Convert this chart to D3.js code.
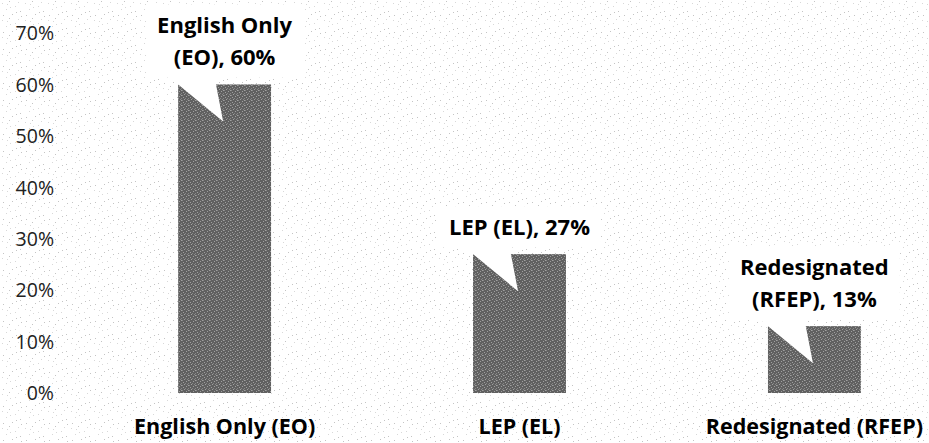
<!DOCTYPE html>
<html>
<head>
<meta charset="utf-8">
<script src="https://cdn.jsdelivr.net/npm/d3@7"></script>
<style>
  html, body { margin: 0; padding: 0; background: #ffffff; }
  svg { display: block; }
</style>
</head>
<body>
<svg id="chart" width="929" height="443"></svg>
<script>
// ---- data ----
const categories = ["English Only (EO)", "LEP (EL)", "Redesignated (RFEP)"];
const values = [60, 27, 13];
const calloutLines = [
  ["English Only", "(EO), 60%"],
  ["LEP (EL), 27%"],
  ["Redesignated", "(RFEP), 13%"]
];
const yTicks = [0, 10, 20, 30, 40, 50, 60, 70];

const W = 929, H = 443;
const svg = d3.select("#chart");
const defs = svg.append("defs");

// background speckle texture
const bgPat = defs.append("pattern").attr("id", "bgdots")
  .attr("width", 23).attr("height", 17).attr("patternUnits", "userSpaceOnUse");
const bgDots = [[2,3],[9,1],[15,6],[20,11],[6,9],[12,14],[18,2],[3,15],[10,7],[21,16],[7,4],[16,12]];
bgPat.selectAll("rect").data(bgDots).join("rect")
  .attr("x", d => d[0]).attr("y", d => d[1]).attr("width", 1).attr("height", 1)
  .attr("fill", (d, i) => i % 2 ? "#c4c4c4" : "#d8d8d8");

// bar speckle texture
const barPat = defs.append("pattern").attr("id", "bartex")
  .attr("width", 7).attr("height", 5).attr("patternUnits", "userSpaceOnUse");
barPat.append("rect").attr("width", 7).attr("height", 5).attr("fill", "#606060");
const barDots = [[0,0],[4,1],[6,3],[2,4],[5,4],[1,2],[3,3],[6,0]];
barPat.selectAll("rect.s").data(barDots).join("rect").attr("class", "s")
  .attr("x", d => d[0]).attr("y", d => d[1]).attr("width", 1).attr("height", 1)
  .attr("fill", (d, i) => i % 2 ? "#a0a0a0" : "#888888");

svg.append("rect").attr("width", W).attr("height", H).attr("fill", "#ffffff");
svg.append("rect").attr("width", W).attr("height", H).attr("fill", "url(#bgdots)");

// ---- scales ----
const x = d3.scaleBand().domain(categories).range([100, 939])
  .paddingInner(0.685).paddingOuter(0.265);
const y = d3.scaleLinear().domain([0, 70]).range([393, 33]);

const font = "'Open Sans', 'DejaVu Sans', sans-serif";

// y axis (labels only)
const yAxis = d3.axisLeft(y).tickValues(yTicks).tickFormat(d => d + "%").tickSize(0).tickPadding(0);
const gy = svg.append("g").attr("transform", "translate(54,0)").call(yAxis);
gy.select(".domain").remove();
gy.selectAll("text").attr("font-family", font).attr("font-size", 19.5)
  .attr("fill", "#222").attr("dy", "0.35em");

// x axis labels
const xAxis = d3.axisBottom(x).tickSize(0).tickPadding(0);
const gx = svg.append("g").attr("transform", "translate(0,434)").call(xAxis);
gx.select(".domain").remove();
gx.selectAll("text").attr("font-family", font).attr("font-size", 21.5)
  .attr("font-weight", "bold").attr("fill", "#000").attr("dy", 0).attr("y", 0);

// bars
const data = categories.map((c, i) => ({ c, v: values[i], lines: calloutLines[i] }));
svg.append("g").selectAll("rect").data(data).join("rect")
  .attr("x", d => x(d.c)).attr("width", x.bandwidth())
  .attr("y", d => y(d.v)).attr("height", d => y(0) - y(d.v))
  .attr("fill", "url(#bartex)");

// callouts
const lineH = 32;
const cg = svg.append("g");
data.forEach(d => {
  const g = cg.append("g");
  const barTop = y(d.v);
  const bx = x(d.c);
  const cx = bx + x.bandwidth() / 2;
  const boxBottom = barTop - 7;
  const lastBase = boxBottom - 12;
  const firstBase = lastBase - (d.lines.length - 1) * lineH;
  const boxTop = firstBase - 29;
  const shape = g.append("path").attr("fill", "#ffffff");
  const texts = g.selectAll("text").data(d.lines).join("text")
    .attr("x", cx).attr("y", (t, i) => firstBase + i * lineH)
    .attr("text-anchor", "middle").attr("font-family", font)
    .attr("font-size", 22).attr("font-weight", "bold").attr("fill", "#000")
    .text(t => t);
  let tw = 0;
  texts.each(function() { tw = Math.max(tw, this.getComputedTextLength()); });
  const bw = tw + 22;
  const x0 = cx - bw / 2, x1 = cx + bw / 2;
  const tipX = bx + 45, tipY = barTop + 37;
  const p = d3.path();
  p.moveTo(x0, boxTop);
  p.lineTo(x1, boxTop);
  p.lineTo(x1, boxBottom);
  p.lineTo(bx + 36.5, boxBottom);
  p.lineTo(tipX, tipY);
  p.lineTo(bx - 8.5, boxBottom);
  p.lineTo(x0, boxBottom);
  p.closePath();
  shape.attr("d", p.toString());
});
</script>
</body>
</html>
